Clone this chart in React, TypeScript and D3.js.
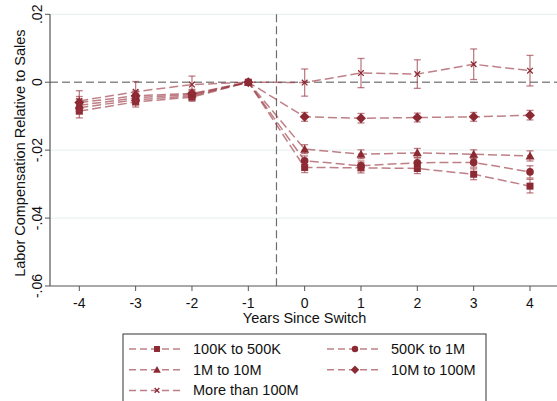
import React from "react";
import * as d3 from "d3";

const years = [-4, -3, -2, -1, 0, 1, 2, 3, 4];
const seriesNames = ["100K to 500K", "500K to 1M", "1M to 10M", "10M to 100M", "More than 100M"];
const seriesShapes = ["square", "circle", "triangle", "diamond", "x"];
const s100K500K = [-0.0085, -0.0058, -0.0044, 0, -0.0251, -0.0252, -0.0254, -0.0271, -0.0306];
const s500K1M = [-0.0075, -0.0052, -0.004, 0, -0.0231, -0.0246, -0.0237, -0.0236, -0.0264];
const s1M10M = [-0.0068, -0.0046, -0.0036, 0, -0.0197, -0.0212, -0.0208, -0.0212, -0.0217];
const s10M100M = [-0.006, -0.004, -0.0033, 0, -0.0102, -0.0106, -0.0104, -0.0102, -0.0097];
const sOver100M = [-0.0055, -0.0028, -0.0007, 0, -0.0001, 0.0027, 0.0024, 0.0053, 0.0034];
const ci100K500K = [0.002, 0.0015, 0.0012, 0, 0.0015, 0.0015, 0.0015, 0.0016, 0.002];
const ci500K1M = [0.0018, 0.0014, 0.0012, 0, 0.0014, 0.0014, 0.0014, 0.0014, 0.0018];
const ci1M10M = [0.0018, 0.0014, 0.0012, 0, 0.0013, 0.0013, 0.0013, 0.0013, 0.0015];
const ci10M100M = [0.0018, 0.0014, 0.0012, 0, 0.0013, 0.0014, 0.0013, 0.0013, 0.0014];
const ciOver100M = [0.003, 0.003, 0.0025, 0, 0.004, 0.0043, 0.0042, 0.0045, 0.0045];
const yTicks = [0.02, 0, -0.02, -0.04, -0.06];
const yTickLabels = [".02", "0", "-.02", "-.04", "-.06"];

const seriesValues = [s100K500K, s500K1M, s1M10M, s10M100M, sOver100M];
const seriesCI = [ci100K500K, ci500K1M, ci1M10M, ci10M100M, ciOver100M];

const MARK = "#8c2a33";
const LINE = "rgba(150,50,60,0.62)";
const FONT = "'Liberation Sans', Arial, Helvetica, sans-serif";

function Marker({ shape, x, y, s = 1 }: { shape: string; x: number; y: number; s?: number }) {
  if (shape === "square") return <rect x={x - 3.5 * s} y={y - 3.5 * s} width={7 * s} height={7 * s} fill={MARK} />;
  if (shape === "circle") return <circle cx={x} cy={y} r={3.8 * s} fill={MARK} />;
  if (shape === "triangle")
    return <path d={`M${x},${y - 4.5 * s}L${x + 4.5 * s},${y + 3.5 * s}L${x - 4.5 * s},${y + 3.5 * s}Z`} fill={MARK} />;
  if (shape === "diamond")
    return <path d={`M${x},${y - 5 * s}L${x + 5 * s},${y}L${x},${y + 5 * s}L${x - 5 * s},${y}Z`} fill={MARK} />;
  const r = 2.8 * s;
  return <path d={`M${x - r},${y - r}L${x + r},${y + r}M${x - r},${y + r}L${x + r},${y - r}`} stroke={MARK} strokeWidth={1.3} />;
}

export default function App() {
  const x = d3.scaleLinear().domain([-4, 4]).range([79.3, 530]);
  const y = d3.scaleLinear().domain([-0.06, 0.02]).range([286, 14.3]);
  const left = 50, right = 557, top = 14.3, bottom = 286;
  const line = d3.line<number>().x((_, i) => x(years[i])).y((v) => y(v));

  return (
    <svg width={557} height={401} style={{ position: "absolute", left: 0, top: 0, background: "#fff" }} fontFamily={FONT}>
      {/* gridlines */}
      {yTicks.filter((t) => t !== 0 && t !== -0.06).map((t) => (
        <line key={t} x1={left} x2={right} y1={y(t)} y2={y(t)} stroke="#eaf1f1" strokeWidth={1.2} />
      ))}
      {/* reference lines */}
      <line x1={left} x2={right} y1={y(0)} y2={y(0)} stroke="#8a8a8a" strokeWidth={1.3} strokeDasharray="8,4" />
      <line x1={x(-0.5)} x2={x(-0.5)} y1={top} y2={bottom} stroke="#6e6e6e" strokeWidth={1.2} strokeDasharray="8,4" />
      {/* series */}
      {seriesValues.map((vals, si) => (
        <g key={si}>
          <path d={line(vals) || ""} fill="none" stroke={LINE} strokeWidth={1.5} strokeDasharray="9,4" />
          {vals.map((v, i) => {
            const c = seriesCI[si][i];
            if (c === 0) return null;
            const cx = x(years[i]);
            return (
              <g key={i} stroke={LINE} strokeWidth={1.3}>
                <line x1={cx} x2={cx} y1={y(v + c)} y2={y(v - c)} />
                <line x1={cx - 3.5} x2={cx + 3.5} y1={y(v + c)} y2={y(v + c)} />
                <line x1={cx - 3.5} x2={cx + 3.5} y1={y(v - c)} y2={y(v - c)} />
              </g>
            );
          })}
          {vals.map((v, i) => (
            <Marker key={i} shape={seriesShapes[si]} x={x(years[i])} y={y(v)} />
          ))}
        </g>
      ))}
      {/* axes */}
      <line x1={left} x2={left} y1={top} y2={bottom} stroke="#555" strokeWidth={1.2} />
      <line x1={left} x2={right} y1={bottom} y2={bottom} stroke="#555" strokeWidth={1.2} />
      {yTicks.map((t, i) => (
        <g key={t}>
          <line x1={left - 5} x2={left} y1={y(t)} y2={y(t)} stroke="#555" strokeWidth={1} />
          <text transform={`translate(41.5,${y(t)}) rotate(-90)`} textAnchor="middle" fontSize={14} fill="#111">
            {yTickLabels[i]}
          </text>
        </g>
      ))}
      {years.map((t) => (
        <g key={t}>
          <line x1={x(t)} x2={x(t)} y1={bottom} y2={bottom + 5} stroke="#555" strokeWidth={1} />
          <text x={x(t)} y={307.5} textAnchor="middle" fontSize={14} fill="#111">
            {t}
          </text>
        </g>
      ))}
      <text transform={`translate(25,${(top + bottom) / 2 + 3}) rotate(-90)`} textAnchor="middle" fontSize={14.5} fill="#111">
        Labor Compensation Relative to Sales
      </text>
      <text x={x(0)} y={323} textAnchor="middle" fontSize={14.5} fill="#111">
        Years Since Switch
      </text>
      {/* legend */}
      <rect x={123} y={334} width={363} height={80} fill="#fff" stroke="#333" strokeWidth={1} />
      {seriesNames.map((name, i) => {
        const col = i % 2;
        const row = Math.floor(i / 2);
        const lx = col === 0 ? 129 : 327;
        const ly = 349 + row * 20.7;
        return (
          <g key={name}>
            <line x1={lx} x2={lx + 54} y1={ly} y2={ly} stroke={LINE} strokeWidth={1.5} strokeDasharray="7,4" />
            <Marker shape={seriesShapes[i]} x={lx + 28} y={ly} s={0.85} />
            <text x={lx + 64} y={ly + 5} fontSize={14.5} fill="#111">
              {name}
            </text>
          </g>
        );
      })}
    </svg>
  );
}
